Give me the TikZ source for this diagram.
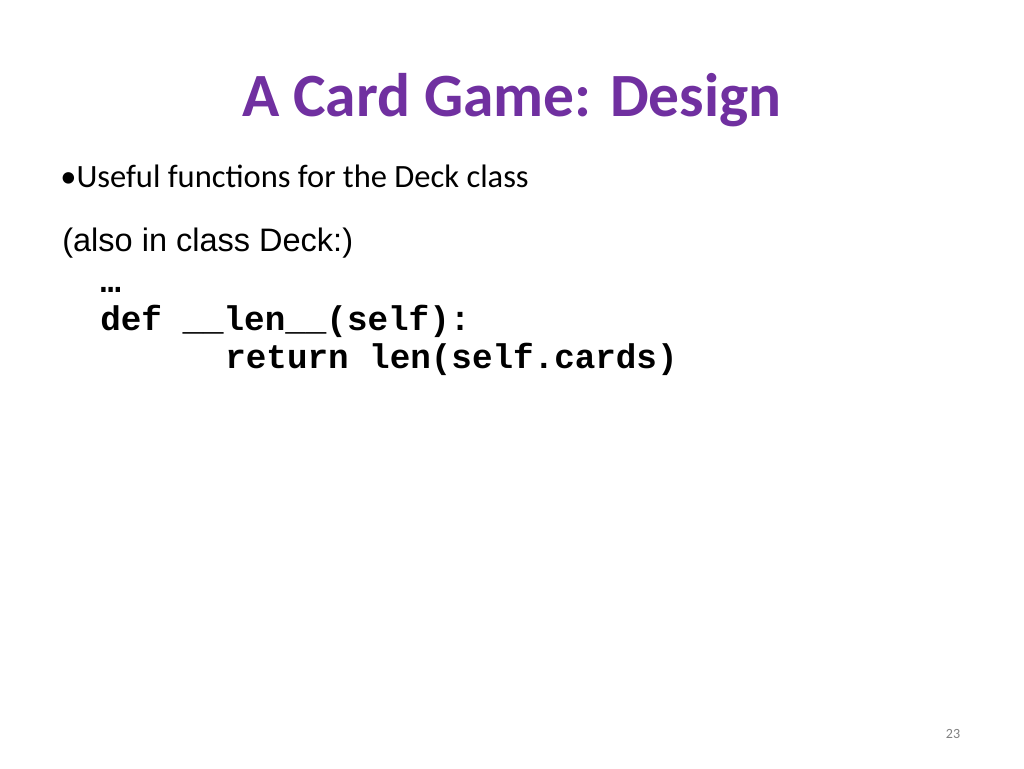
\documentclass[tikz,border=0pt]{standalone}
\usepackage{fontspec}
\setmainfont{Carlito}
\newfontfamily\arialf{Liberation Sans}
\newfontfamily\monof{Liberation Mono}
\definecolor{ttl}{HTML}{7030A0}
\begin{document}
\begin{tikzpicture}[x=0.02cm,y=-0.02cm]
\useasboundingbox[fill=white] (0,0) rectangle (1024,768);
\tikzset{txt/.style={inner sep=0pt,anchor=base west}}
\node[inner sep=0pt,anchor=base,text=ttl,font=\fontsize{35}{40}\selectfont\bfseries] (title) at (512,116) {A Card Game: Design};
\node[txt,font=\fontsize{18.5}{22}\selectfont] (b1) at (60,187) {\textbullet Useful functions for the Deck class};
\node[txt,font=\arialf\fontsize{18.5}{22}\selectfont] (b2) at (62,251) {(also in class Deck:)};
\node[txt,font=\monof\bfseries\fontsize{19.5}{22}\selectfont] (c0) at (100,292) {\ldots};
\node[txt,font=\monof\bfseries\fontsize{19.5}{22}\selectfont] (c1) at (100,330) {def \_\_len\_\_(self):};
\node[txt,font=\monof\bfseries\fontsize{19.5}{22}\selectfont] (c2) at (225,368) {return len(self.cards)};
\node[inner sep=0pt,anchor=base,text=gray,font=\fontsize{8}{10}\selectfont] (pg) at (953,738) {23};
\end{tikzpicture}
\end{document}
